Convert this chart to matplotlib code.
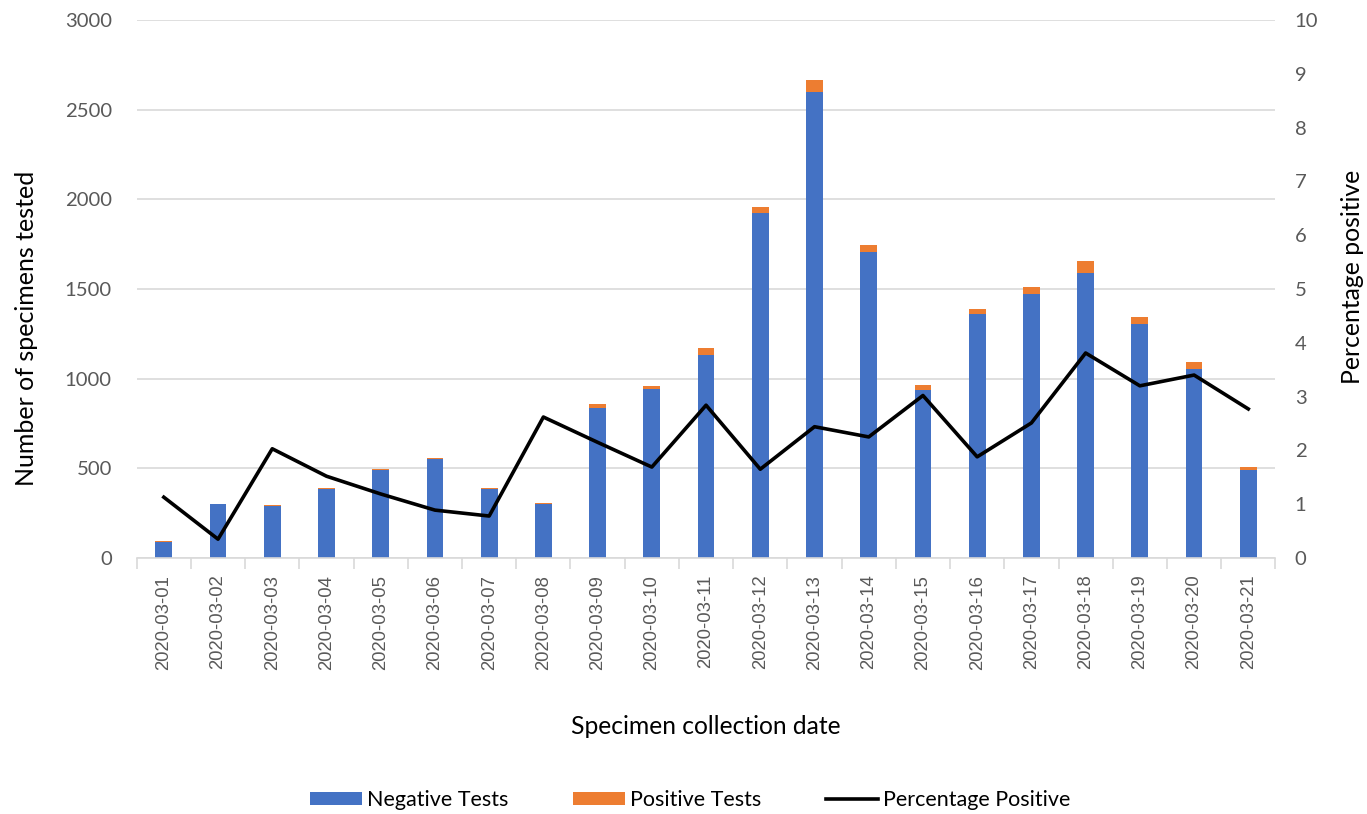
import matplotlib
matplotlib.use("Agg")
import matplotlib.pyplot as plt
import numpy as np

# Data
dates = ["2020-03-%02d" % d for d in range(1, 22)]
negative = [90, 300, 290, 385, 490, 553, 387, 300, 837, 943, 1132, 1924, 2599, 1707,
            937, 1361, 1472, 1590, 1305, 1054, 491]
positive = [2, 2, 6, 6, 6, 5, 3, 8, 22, 16, 39, 34, 67, 39, 28, 28, 39, 66, 39, 39, 17]
pct_positive = [1.13, 0.35, 2.03, 1.52, 1.19, 0.89, 0.78, 2.62, 2.15, 1.69, 2.84, 1.65,
                2.44, 2.25, 3.02, 1.88, 2.51, 3.81, 3.20, 3.40, 2.77]

plt.rcParams['font.family'] = ['Lato', 'DejaVu Sans']
grey = '#595959'

fig = plt.figure(figsize=(13.67, 8.14), dpi=100)
ax = fig.add_axes([0.100, 0.3145, 0.833, 0.661])
x = np.arange(len(dates))

ax.bar(x, negative, width=0.31, color='#4472C4', label='Negative Tests', zorder=2)
ax.bar(x, positive, width=0.31, bottom=negative, color='#ED7D31', label='Positive Tests', zorder=2)

ax.set_ylim(0, 3000)
ax.set_yticks(range(0, 3001, 500))
ax.set_xlim(-0.5, len(dates) - 0.5)
ax.grid(axis='y', color='#d9d9d9', linewidth=1.2, zorder=0)
ax.set_axisbelow(True)
for s in ['top', 'left', 'right']:
    ax.spines[s].set_visible(False)
ax.spines['bottom'].set_color('#d9d9d9')
ax.spines['bottom'].set_linewidth(1.2)

ax.set_xticks(x)
ax.set_xticklabels(dates, rotation=90, family=['Liberation Sans', 'DejaVu Sans'])
ax.tick_params(axis='x', which='major', length=0, pad=12, labelsize=13.3, labelcolor=grey)
ax.set_xticks(np.arange(-0.5, len(dates), 1), minor=True)
ax.tick_params(axis='x', which='minor', length=8, color='#d9d9d9', width=1.2)
ax.tick_params(axis='y', length=0, labelsize=14.6, labelcolor=grey, pad=18)

ax.set_ylabel("Number of specimens tested", fontsize=18, va='center')
ax.yaxis.set_label_coords(-0.0967, 0.426)
ax.set_xlabel("Specimen collection date", fontsize=17.7, va='center')
ax.xaxis.set_label_coords(0.5, -0.314)

ax2 = ax.twinx()
ax2.plot(x, pct_positive, color='black', linewidth=2.6, label='Percentage Positive', zorder=3)
ax2.set_ylim(0, 10)
ax2.set_yticks(range(0, 11))
for s in ax2.spines.values():
    s.set_visible(False)
ax2.tick_params(axis='y', length=0, labelsize=14.6, labelcolor=grey, pad=14)
ax2.set_ylabel("Percentage positive", fontsize=17.8, va='center', rotation=90)
ax2.yaxis.set_label_coords(1.0677, 0.522)

h1, l1 = ax.get_legend_handles_labels()
h2, l2 = ax2.get_legend_handles_labels()
fig.legend(h1 + h2, l1 + l2, loc='center', bbox_to_anchor=(0.505, 0.017), ncol=3,
           frameon=False, fontsize=15.5, handlelength=2.4, handleheight=0.6,
           handletextpad=0.25, columnspacing=3.0)

fig.savefig("out.png", dpi=100)
